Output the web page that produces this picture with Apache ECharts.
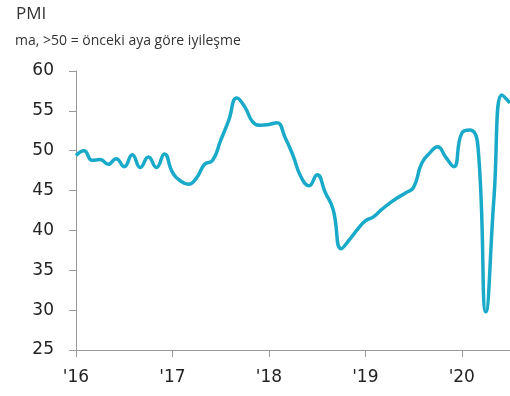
<!DOCTYPE html>
<html>
<head>
<meta charset="utf-8">
<script src="https://cdn.jsdelivr.net/npm/echarts@6/dist/echarts.min.js"></script>
<style>
	html, body { margin: 0; padding: 0; background: #fff; }
	#chart { width: 510px; height: 396px; }
</style>
</head>
<body>
<div id="chart"></div>
<script>
	// yillar, her biri ocak ayindan baslar
	var years = ['16', '17', '18', '19', '20'];
	var lastYearMonths = 7; // 2020: ocak - temmuz

	// aylik PMI degerleri (ocak 2016 - temmuz 2020)
	var pmi = [
		49.4, 50.0, 48.8, 48.9, 48.3, 49.0, 48.0, 49.5, 47.9, 49.2, 47.9, 49.6,
		47.3, 46.2, 45.8, 46.6, 48.3, 48.8, 51.3, 53.8, 56.6, 55.5, 53.6, 53.2,
		53.3, 53.5, 51.7, 49.4, 46.7, 45.6, 47.0, 44.8, 42.6, 37.7, 38.8, 40.1,
		41.2, 41.7, 42.6, 43.4, 44.1, 44.7, 45.4, 48.4, 49.7, 50.5, 49.2, 48.0,
		52.2, 52.6, 50.7, 29.8, 44.0, 57.0, 56.0
	];

	var yTicks = { min: 25, max: 60, step: 5 };

	var months = [];
	for (var i = 0; i < years.length; i++) {
		var n = (i == years.length - 1) ? lastYearMonths : 12;
		for (var m = 0; m < n; m++) {
			months.push(m == 0 ? "'" + years[i] : '');
		}
	}

	var myChart = echarts.init(document.getElementById('chart'));

	var option = {
		animation: false,
		title: [{
			text: 'PMI',
			left: 11,
			top: 1,
			textStyle: { fontFamily: 'Open Sans', fontSize: 17, fontWeight: 'normal', color: '#333' }
		}, {
			text: 'ma, >50 = önceki aya göre iyileşme',
			left: 10,
			top: 29,
			textStyle: { fontFamily: 'Open Sans', fontSize: 14, fontWeight: 'normal', color: '#333' }
		}],
		grid: {
			left: 76,
			right: 0,
			top: 71,
			bottom: 46
		},
		xAxis: {
			type: 'category',
			data: months,
			boundaryGap: false,
			axisLine: { lineStyle: { color: '#999', width: 1 } },
			axisTick: { interval: 11, length: 7, lineStyle: { color: '#999' } },
			axisLabel: {
				interval: 11,
				margin: 19,
				fontFamily: 'DejaVu Sans',
				fontSize: 17,
				color: '#222'
			},
			splitLine: { show: false }
		},
		yAxis: {
			type: 'value',
			min: yTicks.min,
			max: yTicks.max,
			interval: yTicks.step,
			axisLine: { show: true, lineStyle: { color: '#999', width: 1 } },
			axisTick: { show: true, length: 7, lineStyle: { color: '#999' } },
			axisLabel: {
				margin: 22,
				fontFamily: 'DejaVu Sans',
				fontSize: 17,
				color: '#222'
			},
			splitLine: { show: false }
		},
		series: [{
			name: 'PMI',
			type: 'line',
			data: pmi,
			smooth: 0.5,
			showSymbol: false,
			lineStyle: { color: '#1aaac9', width: 3.5 },
			clip: true
		}]
	};

	myChart.setOption(option);
</script>
</body>
</html>
